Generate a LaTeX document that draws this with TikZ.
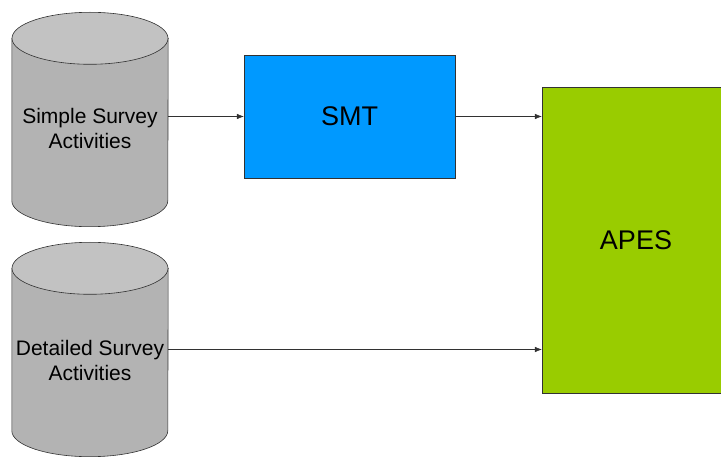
\documentclass[tikz,border=0pt]{standalone}
\usepackage{xcolor}
\usepackage{fontspec}
\setmainfont{Liberation Sans}
\usepackage{tikz}
\usetikzlibrary{positioning,arrows.meta}
\definecolor{smtblue}{RGB}{0,153,255}
\definecolor{apesgreen}{RGB}{153,204,0}
\definecolor{cylbody}{RGB}{179,179,179}
\definecolor{cyltop}{RGB}{194,194,194}
\definecolor{edge}{RGB}{50,50,50}
\tikzset{
  drum/.style={minimum width=156pt, minimum height=162pt, inner sep=0pt},
  drumline/.style={draw=edge, line width=0.6pt},
  storetext/.style={align=center, font=\fontsize{21}{25}\selectfont},
  tool/.style={draw=edge, font=\fontsize{27}{30}\selectfont},
  feed/.style={-{Latex[length=7pt,width=5.5pt]}, draw=edge}
}

\begin{document}
\begin{tikzpicture}[x=1pt,y=-1pt]
\clip (0,0) rectangle (721,457);
\foreach \store/\y in {simple/119.5, detailed/349.5} {
\node[drum] (\store) at (90,\y) {};
\path[drumline, fill=cylbody] (\store.north west) -- (\store.south west)
  arc[start angle=180, end angle=360, x radius=78pt, y radius=26pt]
  -- (\store.north east) -- cycle;
\path[drumline, fill=cyltop] (\store.north) ellipse[x radius=78pt, y radius=26pt];
}
\node[storetext] (simpletext) at (90,128) {Simple Survey\\Activities};
\node[storetext] (detailedtext) at (90,360) {Detailed Survey\\Activities};
\node[tool, fill=smtblue, minimum width=211pt, minimum height=123pt] (smt) at (349.5,116.5) {SMT};
\node[tool, fill=apesgreen, minimum width=188pt, minimum height=306pt] (apes) at (636,240) {APES};
\draw[feed] (simple.east |- smt) -- (smt);
\draw[feed] (smt) -- (apes.west |- smt);
\draw[feed] (detailed) -- (apes.west |- detailed);
\end{tikzpicture}
\end{document}
